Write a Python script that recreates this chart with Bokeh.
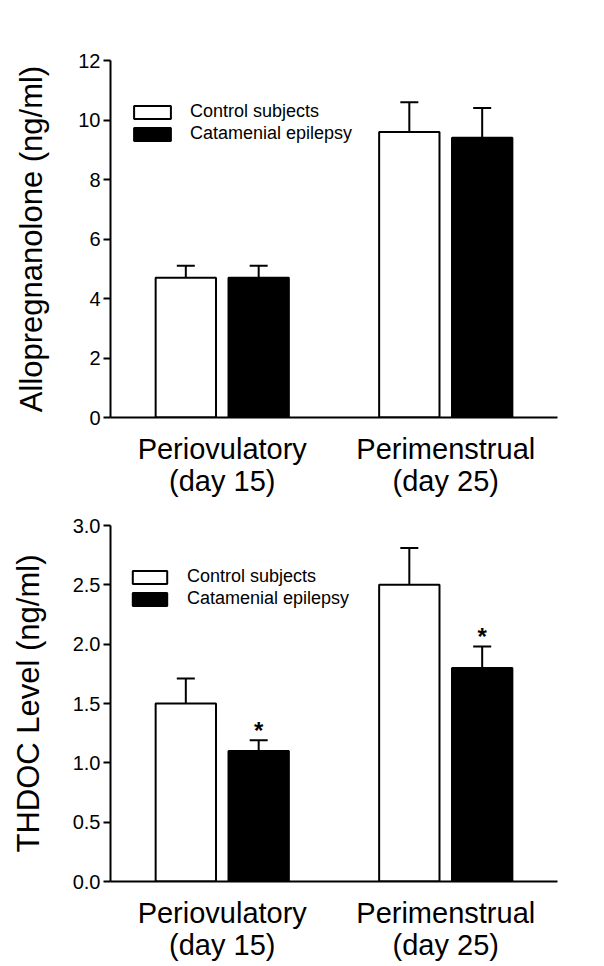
from bokeh.plotting import figure
from bokeh.models import (Range1d, FixedTicker, Whisker, TeeHead, ColumnDataSource,
                          Legend, LegendItem, LinearAxis, NumeralTickFormatter)
from bokeh.layouts import column
from bokeh.embed import file_html
from bokeh.resources import INLINE
from bokeh.core.properties import value

# ---- data ----
groups_line1 = ["Periovulatory", "Perimenstrual"]
groups_line2 = ["(day 15)", "(day 25)"]
series = ["Control subjects", "Catamenial epilepsy"]

allo_control = [4.7, 9.6]
allo_control_sem = [0.4, 1.0]
allo_epilepsy = [4.7, 9.4]
allo_epilepsy_sem = [0.4, 1.0]
allo_sig = ["", ""]
allo_ticks = [0, 2, 4, 6, 8, 10, 12]

thdoc_control = [1.5, 2.5]
thdoc_control_sem = [0.21, 0.31]
thdoc_epilepsy = [1.1, 1.8]
thdoc_epilepsy_sem = [0.09, 0.18]
thdoc_sig = ["*", "*"]
thdoc_ticks = [0.0, 0.5, 1.0, 1.5, 2.0, 2.5, 3.0]

FONT = "Liberation Sans"
BAR_W = 0.27
OFFSET = 0.163


def style_cat_axis(ax, centers, labels, standoff):
    ax.ticker = FixedTicker(ticks=centers)
    ax.major_label_overrides = {c: t for c, t in zip(centers, labels)}
    ax.major_tick_out = 0
    ax.major_tick_in = 0
    ax.major_tick_line_color = None
    ax.minor_tick_line_color = None
    ax.major_label_standoff = standoff
    ax.major_label_text_font = FONT
    ax.major_label_text_font_size = "29px"
    ax.major_label_text_color = "black"


def make_panel(ylabel, ticks, ctrl, ctrl_err, epi, epi_err, sig, fmt,
               top_border, frame_h, label_standoff, leg_x, leg_y, glyph_w, leg_standoff):
    p = figure(frame_width=447, frame_height=frame_h, output_backend="svg",
               toolbar_location=None,
               x_range=Range1d(0, len(groups_line1)), y_range=Range1d(ticks[0], ticks[-1]),
               min_border_left=110, min_border_right=43, min_border_top=top_border,
               min_border_bottom=0)
    p.outline_line_color = None
    p.grid.visible = False

    centers = [i + 0.5 for i in range(len(groups_line1))]
    xc = [c - OFFSET for c in centers]
    xe = [c + OFFSET for c in centers]

    src_c = ColumnDataSource(dict(x=xc, top=ctrl, upper=[v + e for v, e in zip(ctrl, ctrl_err)]))
    src_e = ColumnDataSource(dict(x=xe, top=epi, upper=[v + e for v, e in zip(epi, epi_err)],
                                  sig=sig))

    r_c = p.vbar(x="x", top="top", bottom=0, width=BAR_W, source=src_c,
                 fill_color="white", line_color="black", line_width=2)
    r_e = p.vbar(x="x", top="top", bottom=0, width=BAR_W, source=src_e,
                 fill_color="black", line_color="black", line_width=2)

    for src in (src_c, src_e):
        w = Whisker(source=src, base="x", lower="top", upper="upper", dimension="height",
                    line_color="black", line_width=2,
                    upper_head=TeeHead(size=18, line_width=2, line_color="black"),
                    lower_head=None)
        p.add_layout(w)

    p.text(x="x", y="upper", text="sig", source=src_e, text_align="center",
           text_baseline="alphabetic", y_offset=-10, text_font=value(FONT),
           text_font_size="24px", text_font_style="bold", text_color="black")

    # y axis
    p.yaxis.ticker = FixedTicker(ticks=ticks)
    if fmt:
        p.yaxis.formatter = NumeralTickFormatter(format=fmt)
    p.yaxis.axis_label = ylabel
    p.yaxis.axis_label_text_font = FONT
    p.yaxis.axis_label_text_font_size = "31px"
    p.yaxis.axis_label_text_font_style = "normal"
    p.yaxis.axis_label_text_color = "black"
    p.yaxis.axis_label_standoff = label_standoff
    p.yaxis.major_label_text_font = FONT
    p.yaxis.major_label_text_font_size = "20px"
    p.yaxis.major_label_text_color = "black"
    p.yaxis.major_label_standoff = 3
    p.yaxis.major_tick_out = 7
    p.yaxis.major_tick_in = 0
    p.yaxis.minor_tick_line_color = None
    p.axis.axis_line_width = 2
    p.axis.axis_line_color = "black"
    p.yaxis.major_tick_line_width = 2
    p.yaxis.major_tick_line_color = "black"

    # x axis: two stacked axes carry the two lines of each category name
    style_cat_axis(p.xaxis[0], centers, groups_line1, 15)
    ax2 = LinearAxis(axis_line_color=None)
    style_cat_axis(ax2, centers, groups_line2, -3)
    p.add_layout(ax2, "below")

    legend = Legend(items=[LegendItem(label=series[0], renderers=[r_c]),
                           LegendItem(label=series[1], renderers=[r_e])],
                    location=(leg_x, leg_y), orientation="vertical",
                    glyph_width=glyph_w, glyph_height=16, label_height=16,
                    label_standoff=leg_standoff, spacing=1, padding=0, margin=0,
                    border_line_alpha=0, background_fill_alpha=0,
                    label_text_font=FONT, label_text_font_size="18px",
                    label_text_color="black")
    p.add_layout(legend)
    return p


p1 = make_panel("Allopregnanolone (ng/ml)", allo_ticks, allo_control, allo_control_sem,
                allo_epilepsy, allo_epilepsy_sem, allo_sig, None,
                60, 357, 26, 19, 273, 46, 15)
p2 = make_panel("THDOC Level (ng/ml)", thdoc_ticks, thdoc_control, thdoc_control_sem,
                thdoc_epilepsy, thdoc_epilepsy_sem, thdoc_sig, "0.0",
                26, 356, 24, 18, 272, 43, 16)

layout = column(p1, p2, spacing=0)
open("out.html", "w").write(file_html(layout, INLINE))
